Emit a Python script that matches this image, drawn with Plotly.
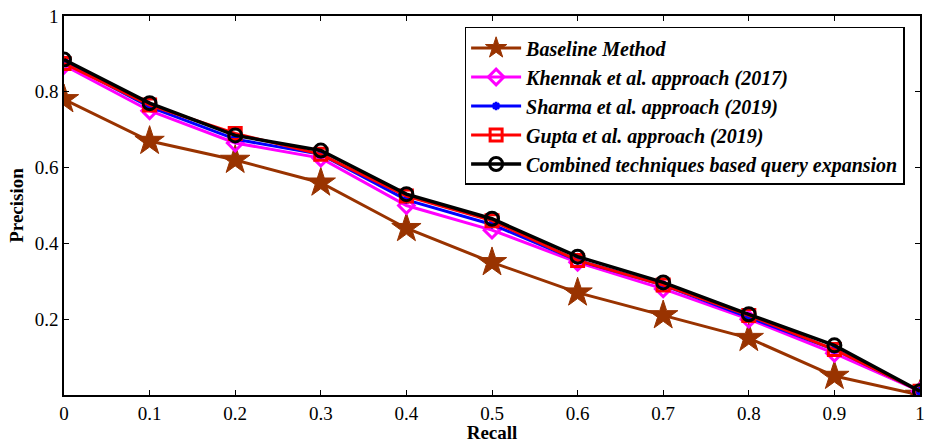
import plotly.graph_objects as go

recall = [0, 0.1, 0.2, 0.3, 0.4, 0.5, 0.6, 0.7, 0.8, 0.9, 1.0]

baseline = [0.78, 0.67, 0.62, 0.56, 0.44, 0.35, 0.27, 0.21, 0.15, 0.05, 0.0]
khennak = [0.87, 0.75, 0.665, 0.625, 0.50, 0.435, 0.35, 0.28, 0.20, 0.11, 0.01]
sharma = [0.88, 0.76, 0.675, 0.635, 0.515, 0.45, 0.355, 0.29, 0.205, 0.12, 0.01]
gupta = [0.875, 0.765, 0.69, 0.635, 0.525, 0.46, 0.355, 0.29, 0.21, 0.12, 0.01]
combined = [0.885, 0.77, 0.685, 0.645, 0.53, 0.465, 0.365, 0.297, 0.213, 0.131, 0.01]

x_ticks = [0, 0.1, 0.2, 0.3, 0.4, 0.5, 0.6, 0.7, 0.8, 0.9, 1]
x_tick_labels = ["0", "0.1", "0.2", "0.3", "0.4", "0.5", "0.6", "0.7", "0.8", "0.9", "1"]
y_ticks = [0.2, 0.4, 0.6, 0.8, 1]
y_tick_labels = ["0.2", "0.4", "0.6", "0.8", "1"]

series = [
    ("Baseline Method", baseline, "rgb(153,51,0)", "star", 22, 1, 3),
    ("Khennak et al. approach (2017)", khennak, "#ff00ff", "diamond-open", 12, 3, 3),
    ("Sharma et al. approach (2019)", sharma, "#0000ff", "asterisk-open", 7, 2.5, 3),
    ("Gupta et al. approach (2019)", gupta, "#ff0000", "square-open", 12, 3, 3),
    ("Combined techniques based query expansion", combined, "#000000", "circle-open", 13, 3, 3.5),
]

font_family = "Liberation Serif, Times New Roman, serif"

fig = go.Figure()
for name, vals, color, symbol, size, mlw, lw in series:
    fig.add_trace(go.Scatter(
        x=recall, y=vals, name=name, mode="lines+markers",
        line=dict(color=color, width=lw),
        marker=dict(symbol=symbol, size=size, color=color,
                    line=dict(color=color, width=mlw)),
    ))

axis_common = dict(
    showline=True, linecolor="black", linewidth=1.5, mirror="ticks",
    ticks="inside", ticklen=5, tickcolor="black", tickwidth=1.2,
    showgrid=False, zeroline=False, automargin=False,
    tickfont=dict(family=font_family, size=19, color="black"),
)

fig.update_layout(
    width=929, height=443,
    margin=dict(l=64, r=9, t=16, b=48),
    paper_bgcolor="white", plot_bgcolor="white",
    font=dict(family=font_family, color="black"),
    xaxis=dict(range=[0, 1], tickvals=x_ticks, ticktext=x_tick_labels,
               title=dict(text="<b>Recall</b>", font=dict(size=19), standoff=4),
               **axis_common),
    yaxis=dict(range=[0, 1], tickvals=y_ticks, ticktext=y_tick_labels,
               title=dict(text="<b>Precision</b>", font=dict(size=19), standoff=6),
               **axis_common),
    legend=dict(
        x=0.468, y=0.971, xanchor="left", yanchor="top",
        bgcolor="white", bordercolor="black", borderwidth=1.5,
        font=dict(family=font_family, size=20, color="black", style="italic", weight="bold"),
        itemwidth=50, tracegroupgap=0,
    ),
)

fig.write_html("out.html")
